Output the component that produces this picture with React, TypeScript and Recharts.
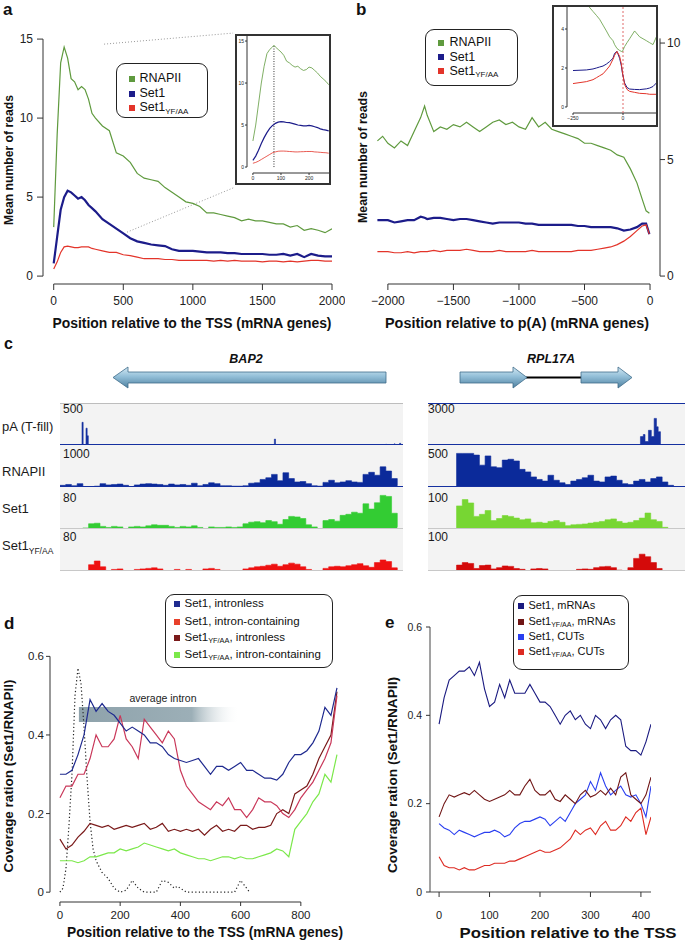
import React from "react";
import {
  LineChart,
  Line,
  AreaChart,
  Area,
  XAxis,
  YAxis,
  ReferenceLine,
  ReferenceArea,
} from "recharts";

const FONT = "'Liberation Sans', Arial, Helvetica, sans-serif";

// ---- panel a: mean reads around the TSS
const aPos = [0, 25, 50, 75, 100, 125, 150, 175, 200, 225, 250, 275, 300, 350, 400, 450, 500, 550, 600, 650, 700, 750, 800, 850, 900, 950, 1000, 1050, 1100, 1150, 1200, 1250, 1300, 1350, 1400, 1450, 1500, 1550, 1600, 1650, 1700, 1750, 1800, 1850, 1900, 1950, 2000];
const aRnapii = [3.1, 9.0, 13.5, 14.5, 13.8, 12.5, 12.3, 11.8, 12.0, 11.8, 11.2, 10.3, 10.0, 9.5, 9.2, 7.8, 7.6, 7.2, 6.5, 6.2, 6.1, 6.0, 5.6, 5.3, 5.0, 4.7, 4.6, 4.4, 4.0, 4.0, 3.9, 3.8, 3.7, 3.5, 3.6, 3.5, 3.5, 3.4, 3.3, 3.3, 3.1, 3.2, 2.9, 3.0, 2.9, 2.75, 3.0];
const aSet1 = [0.8, 2.5, 4.2, 5.0, 5.4, 5.3, 5.1, 4.9, 5.0, 4.8, 4.5, 4.3, 4.1, 3.6, 3.3, 3.0, 2.7, 2.4, 2.2, 2.1, 2.0, 1.95, 1.9, 1.7, 1.6, 1.6, 1.6, 1.55, 1.5, 1.5, 1.5, 1.45, 1.45, 1.4, 1.4, 1.4, 1.4, 1.35, 1.35, 1.4, 1.3, 1.4, 1.2, 1.4, 1.3, 1.25, 1.25];
const aYfaa = [0.45, 0.9, 1.5, 1.85, 1.9, 1.85, 1.8, 1.8, 1.85, 1.85, 1.85, 1.75, 1.7, 1.6, 1.5, 1.5, 1.35, 1.3, 1.2, 1.1, 1.1, 1.1, 1.05, 1.05, 1.0, 1.0, 1.0, 1.0, 1.0, 0.95, 1.0, 0.95, 1.0, 0.95, 0.95, 0.95, 0.9, 0.95, 0.95, 0.9, 0.95, 0.9, 0.95, 1.0, 1.0, 0.95, 0.95];

// panel a inset (first 270 nt)
const aInPos = [0, 10, 20, 30, 40, 50, 60, 70, 75, 80, 90, 100, 110, 120, 130, 140, 150, 160, 170, 180, 190, 200, 210, 220, 230, 240, 250, 260, 270];
const aInRnapii = [3.1, 5.0, 7.5, 10.0, 12.0, 13.5, 14.0, 14.3, 14.5, 14.3, 14.0, 13.7, 13.3, 12.6, 12.4, 12.1, 11.9, 12.0, 11.7, 11.5, 11.6, 11.9, 11.8, 11.5, 11.2, 10.8, 10.5, 10.2, 9.8];
const aInSet1 = [0.8, 1.3, 2.0, 2.8, 3.5, 4.1, 4.6, 4.95, 5.05, 5.2, 5.35, 5.4, 5.38, 5.3, 5.28, 5.2, 5.1, 5.0, 4.95, 4.9, 4.9, 4.95, 4.9, 4.8, 4.7, 4.55, 4.45, 4.4, 4.3];
const aInYfaa = [0.45, 0.55, 0.7, 0.9, 1.1, 1.3, 1.5, 1.7, 1.75, 1.8, 1.88, 1.9, 1.9, 1.88, 1.85, 1.83, 1.8, 1.8, 1.82, 1.83, 1.85, 1.85, 1.85, 1.8, 1.78, 1.75, 1.72, 1.7, 1.65];

// ---- panel b: mean reads around p(A)
const bPos = [-2080, -2040, -2000, -1950, -1900, -1850, -1800, -1750, -1720, -1700, -1650, -1600, -1550, -1500, -1450, -1400, -1350, -1300, -1250, -1200, -1150, -1100, -1050, -1000, -950, -900, -850, -800, -750, -700, -650, -600, -550, -500, -450, -400, -350, -300, -250, -200, -150, -100, -60, -30, -5];
const bRnapii = [5.8, 6.0, 5.7, 5.5, 5.8, 5.6, 6.2, 6.8, 7.3, 6.9, 6.2, 6.4, 6.3, 6.5, 6.4, 6.6, 6.4, 6.2, 6.4, 6.6, 6.7, 6.5, 6.6, 6.4, 6.3, 6.8, 6.4, 6.6, 6.3, 6.2, 6.1, 6.0, 5.9, 5.7, 5.7, 5.6, 5.5, 5.4, 5.2, 5.1, 4.6, 4.0, 3.3, 2.8, 2.7];
const bSet1 = [2.4, 2.4, 2.4, 2.3, 2.35, 2.4, 2.4, 2.55, 2.5, 2.45, 2.5, 2.5, 2.45, 2.4, 2.45, 2.45, 2.4, 2.35, 2.3, 2.25, 2.3, 2.3, 2.3, 2.3, 2.25, 2.25, 2.2, 2.2, 2.2, 2.2, 2.2, 2.2, 2.15, 2.15, 2.1, 2.1, 2.1, 2.1, 2.05, 1.95, 2.0, 2.1, 2.25, 2.25, 1.8];
const bYfaa = [1.05, 1.05, 1.05, 1.0, 1.0, 1.05, 1.0, 1.05, 1.05, 1.05, 1.1, 1.05, 1.1, 1.1, 1.1, 1.15, 1.1, 1.05, 1.05, 1.05, 1.1, 1.05, 1.05, 1.05, 1.05, 1.1, 1.05, 1.05, 1.05, 1.05, 1.05, 1.05, 1.1, 1.1, 1.1, 1.15, 1.2, 1.25, 1.35, 1.5, 1.7, 1.95, 2.15, 2.2, 1.8];

// panel b inset (close to p(A))
const bInPos = [-250, -183, -150, -133, -117, -100, -83, -67, -50, -42, -30, -17, -8, -3, 8, 20, 33, 58, 83, 117, 133, 150, 167];
const bInRnapii = [5.9, 5.3, 4.9, 4.7, 4.5, 4.2, 3.9, 3.6, 3.4, 3.2, 3.0, 2.9, 2.85, 2.85, 3.1, 3.3, 3.5, 3.9, 3.6, 3.4, 3.3, 3.2, 3.6];
const bInSet1 = [1.87, 1.9, 1.95, 2.0, 2.05, 2.1, 2.2, 2.33, 2.5, 2.75, 2.85, 2.5, 2.1, 1.74, 1.23, 1.0, 0.92, 0.9, 0.89, 0.93, 0.97, 1.05, 1.23];
const bInYfaa = [1.2, 1.3, 1.4, 1.5, 1.6, 1.7, 1.9, 2.1, 2.45, 2.65, 2.85, 2.6, 2.2, 1.8, 1.15, 0.9, 0.8, 0.75, 0.7, 0.68, 0.65, 0.65, 0.65];

// ---- panel c: browser tracks (bins)
const cLeftPaPos = [0, 3.85, 4.05, 4.55, 4.75, 4.95, 37.5, 37.7, 57.0, 57.1, 58.5, 58.6, 59.4, 59.6, 60];
const cLeftPa = [0, 270, 0, 200, 110, 0, 70, 0, 10, 0, 15, 0, 20, 0, 0];
const cLeftRnapii = [40, 60, 30, 80, 0, 0, 20, 80, 50, 60, 70, 40, 0, 50, 70, 80, 70, 60, 40, 70, 50, 60, 40, 90, 30, 60, 100, 80, 30, 30, 20, 20, 30, 90, 100, 180, 220, 300, 150, 340, 200, 120, 130, 80, 30, 20, 110, 160, 100, 120, 150, 120, 110, 300, 350, 280, 480, 380, 200, 30];
const cLeftSet1 = [0, 0, 0, 0, 2, 10, 11, 5, 3, 5, 4, 0, 4, 5, 4, 6, 8, 7, 7, 5, 3, 5, 4, 6, 3, 0, 4, 3, 3, 4, 3, 4, 10, 13, 14, 12, 16, 14, 9, 18, 24, 23, 20, 8, 4, 0, 16, 18, 15, 26, 28, 32, 30, 48, 38, 50, 64, 62, 30, 4];
const cLeftYfaa = [0, 0, 0, 0, 0, 12, 19, 8, 0, 3, 4, 0, 0, 3, 4, 5, 6, 4, 0, 0, 3, 0, 3, 0, 0, 4, 5, 3, 0, 0, 0, 0, 4, 6, 8, 9, 11, 13, 9, 12, 15, 13, 8, 3, 0, 0, 5, 8, 9, 8, 10, 12, 14, 10, 7, 16, 21, 18, 6, 0];
const cRightPaPos = [0, 37.2, 37.7, 38.0, 38.6, 39.1, 39.6, 40.0, 40.3, 40.7, 45];
const cRightPa = [0, 600, 750, 250, 1050, 600, 1900, 1300, 950, 0, 0];
const cRightRnapii = [0, 0, 0, 0, 0, 400, 400, 400, 380, 260, 370, 240, 230, 320, 330, 310, 210, 180, 120, 90, 70, 140, 80, 50, 30, 70, 90, 110, 140, 70, 60, 120, 130, 80, 40, 30, 70, 90, 60, 100, 120, 60, 20, 0, 0];
const cRightSet1 = [0, 0, 0, 0, 0, 55, 70, 62, 30, 35, 44, 20, 25, 32, 30, 26, 22, 24, 15, 16, 14, 18, 20, 16, 8, 10, 11, 12, 14, 16, 18, 22, 24, 18, 14, 16, 20, 26, 38, 22, 18, 4, 0, 0, 0];
const cRightYfaa = [0, 0, 0, 0, 0, 14, 20, 18, 6, 13, 14, 5, 8, 12, 11, 6, 4, 0, 5, 6, 5, 0, 0, 0, 0, 0, 4, 5, 4, 8, 10, 11, 8, 2, 0, 8, 30, 40, 34, 20, 6, 0, 0, 0, 0];

// ---- panel d: coverage ratio, intron vs intronless
const dPos = [0, 20, 40, 60, 80, 100, 120, 140, 160, 180, 200, 220, 240, 260, 280, 300, 320, 340, 360, 380, 400, 420, 440, 460, 480, 500, 520, 540, 560, 580, 600, 620, 640, 660, 680, 700, 720, 740, 760, 780, 800, 820, 840, 860, 880, 900, 920];
const dSet1Intronless = [0.30, 0.30, 0.31, 0.35, 0.40, 0.49, 0.46, 0.48, 0.46, 0.45, 0.43, 0.41, 0.42, 0.41, 0.40, 0.38, 0.38, 0.37, 0.35, 0.34, 0.335, 0.33, 0.335, 0.34, 0.32, 0.30, 0.32, 0.32, 0.31, 0.32, 0.33, 0.31, 0.31, 0.30, 0.29, 0.29, 0.285, 0.30, 0.33, 0.35, 0.35, 0.36, 0.38, 0.41, 0.47, 0.45, 0.52];
const dSet1Intron = [0.24, 0.27, 0.27, 0.30, 0.30, 0.34, 0.40, 0.37, 0.37, 0.39, 0.45, 0.39, 0.37, 0.34, 0.44, 0.42, 0.40, 0.38, 0.41, 0.39, 0.31, 0.27, 0.25, 0.23, 0.22, 0.21, 0.23, 0.22, 0.24, 0.21, 0.21, 0.19, 0.21, 0.24, 0.23, 0.23, 0.22, 0.20, 0.19, 0.21, 0.24, 0.26, 0.28, 0.31, 0.34, 0.38, 0.50];
const dYfaaIntronless = [0.135, 0.11, 0.12, 0.14, 0.155, 0.175, 0.17, 0.165, 0.17, 0.16, 0.165, 0.17, 0.165, 0.17, 0.175, 0.16, 0.165, 0.175, 0.155, 0.16, 0.155, 0.16, 0.155, 0.16, 0.145, 0.16, 0.17, 0.155, 0.16, 0.155, 0.17, 0.17, 0.16, 0.165, 0.165, 0.17, 0.20, 0.21, 0.20, 0.25, 0.26, 0.27, 0.30, 0.34, 0.37, 0.40, 0.51];
const dYfaaIntron = [0.08, 0.08, 0.08, 0.075, 0.08, 0.09, 0.09, 0.095, 0.10, 0.10, 0.11, 0.105, 0.11, 0.115, 0.125, 0.12, 0.115, 0.11, 0.105, 0.11, 0.10, 0.095, 0.09, 0.085, 0.085, 0.08, 0.085, 0.09, 0.09, 0.085, 0.09, 0.085, 0.085, 0.09, 0.095, 0.10, 0.11, 0.105, 0.09, 0.16, 0.18, 0.20, 0.23, 0.25, 0.30, 0.28, 0.35];
const dIntronPos = [0, 10, 20, 30, 40, 50, 60, 70, 80, 90, 100, 110, 120, 140, 160, 180, 200, 220, 240, 260, 280, 320, 340, 360, 380, 390, 400, 420, 580, 600, 620, 630];
const dIntronDensity = [0, 0.01, 0.06, 0.17, 0.3, 0.5, 0.57, 0.53, 0.42, 0.29, 0.18, 0.11, 0.08, 0.05, 0.035, 0.01, 0, 0.005, 0.03, 0.01, 0, 0, 0.03, 0.025, 0.01, 0.015, 0.01, 0, 0, 0.03, 0.01, 0];

// ---- panel e: coverage ratio, mRNAs vs CUTs
const ePos = [0, 10, 20, 30, 40, 50, 60, 70, 80, 90, 100, 110, 120, 130, 140, 150, 160, 170, 180, 190, 200, 210, 220, 230, 240, 250, 260, 270, 280, 290, 300, 310, 320, 330, 340, 350, 360, 370, 380, 390, 400, 410, 420];
const eSet1Mrna = [0.38, 0.44, 0.48, 0.49, 0.50, 0.50, 0.51, 0.49, 0.52, 0.46, 0.42, 0.43, 0.47, 0.44, 0.48, 0.45, 0.45, 0.45, 0.47, 0.45, 0.43, 0.43, 0.42, 0.40, 0.38, 0.40, 0.41, 0.39, 0.40, 0.38, 0.37, 0.40, 0.39, 0.37, 0.39, 0.40, 0.39, 0.33, 0.32, 0.32, 0.31, 0.34, 0.38];
const eYfaaMrna = [0.17, 0.20, 0.22, 0.215, 0.22, 0.225, 0.22, 0.23, 0.22, 0.21, 0.205, 0.21, 0.215, 0.22, 0.23, 0.22, 0.22, 0.24, 0.255, 0.23, 0.22, 0.22, 0.23, 0.21, 0.205, 0.22, 0.21, 0.20, 0.22, 0.23, 0.215, 0.22, 0.23, 0.22, 0.235, 0.22, 0.26, 0.27, 0.22, 0.21, 0.20, 0.22, 0.26];
const eSet1Cut = [0.155, 0.145, 0.14, 0.13, 0.14, 0.135, 0.13, 0.125, 0.13, 0.135, 0.135, 0.14, 0.135, 0.125, 0.13, 0.145, 0.155, 0.16, 0.16, 0.165, 0.17, 0.165, 0.15, 0.16, 0.17, 0.16, 0.18, 0.20, 0.21, 0.22, 0.25, 0.23, 0.27, 0.24, 0.22, 0.23, 0.24, 0.22, 0.215, 0.22, 0.20, 0.17, 0.24];
const eYfaaCut = [0.08, 0.06, 0.055, 0.055, 0.05, 0.055, 0.05, 0.05, 0.055, 0.06, 0.06, 0.065, 0.065, 0.065, 0.07, 0.07, 0.075, 0.08, 0.085, 0.09, 0.095, 0.09, 0.09, 0.095, 0.10, 0.11, 0.12, 0.14, 0.13, 0.14, 0.145, 0.13, 0.15, 0.16, 0.14, 0.14, 0.15, 0.17, 0.16, 0.18, 0.19, 0.13, 0.17];

const GREEN = "#5f9a3e";
const NAVY = "#1c1c8a";
const RED = "#e3342a";

const table = (x: number[], cols: Record<string, number[]>) =>
  x.map((v, i) => {
    const row: Record<string, number> = { x: v };
    Object.keys(cols).forEach((k) => (row[k] = cols[k][i]));
    return row;
  });

const bins = (vals: number[]) => vals.map((v, i) => ({ x: i, y: v }));

const aRows = table(aPos, { rnapii: aRnapii, set1: aSet1, yfaa: aYfaa });
const aInRows = table(aInPos, { rnapii: aInRnapii, set1: aInSet1, yfaa: aInYfaa });
const bRows = table(bPos, { rnapii: bRnapii, set1: bSet1, yfaa: bYfaa });
const bInRows = table(bInPos, { rnapii: bInRnapii, set1: bInSet1, yfaa: bInYfaa });
const dRows = table(dPos, { s1: dSet1Intronless, s1i: dSet1Intron, yf: dYfaaIntronless, yfi: dYfaaIntron });
const dIntronRows = table(dIntronPos, { y: dIntronDensity });
const eRows = table(ePos, { s1m: eSet1Mrna, yfm: eYfaaMrna, s1c: eSet1Cut, yfc: eYfaaCut });

const tk = (size: number) => ({ fontSize: size, fill: "#222", fontFamily: FONT });
const minus = (v: number) => (v < 0 ? "\u2212" + Math.abs(v) : String(v));
const dec = (v: number) => (v === 0 ? "0" : v.toFixed(1));
const TL = { stroke: "#333" };

function Sub({ children }: { children: React.ReactNode }) {
  return <span style={{ fontSize: "0.64em", position: "relative", top: "0.32em" }}>{children}</span>;
}

type Item = { color: string; label: React.ReactNode; y: number };

function LegendBox({ box, items, fontSize, swatchX, textX }: { box: number[]; items: Item[]; fontSize: number; swatchX: number; textX: number }) {
  const [l, t, r, b] = box;
  return (
    <div style={{ position: "absolute", left: l, top: t, width: r - l, height: b - t, border: "1.5px solid #222", borderRadius: 9, boxSizing: "border-box", background: "#fff" }}>
      {items.map((it, i) => (
        <React.Fragment key={i}>
          <div style={{ position: "absolute", left: swatchX - l - 1.5, top: it.y - t - 4.5, width: 6, height: 6, background: it.color }} />
          <div style={{ position: "absolute", left: textX - l - 1.5, top: it.y - t - fontSize / 2 - 1.5, fontSize, lineHeight: `${fontSize}px`, whiteSpace: "nowrap", color: "#111" }}>{it.label}</div>
        </React.Fragment>
      ))}
    </div>
  );
}

const TRACK_H = 42;

function Track({ left, top, width, data, max, domainMax, color }: { left: number; top: number; width: number; data: { x: number; y: number }[]; max: number; domainMax: number; color: string }) {
  return (
    <div style={{ position: "absolute", left, top, width, height: TRACK_H }}>
      <AreaChart width={width} height={TRACK_H} data={data} margin={{ top: 0, right: 0, bottom: 0, left: 0 }}>
        <XAxis dataKey="x" type="number" domain={[0, domainMax]} hide allowDataOverflow />
        <YAxis type="number" domain={[0, max]} hide allowDataOverflow />
        <Area type="stepAfter" dataKey="y" stroke={color} strokeWidth={0.6} fill={color} fillOpacity={1} dot={false} activeDot={false} isAnimationActive={false} />
      </AreaChart>
    </div>
  );
}

function PanelA() {
  return (
    <>
      <div style={{ position: "absolute", left: 0, top: 0 }}>
        <LineChart width={345} height={330} data={aRows} margin={{ top: 30, right: 13, bottom: 16, left: 0 }}>
          <XAxis dataKey="x" type="number" domain={[-77, 2000]} ticks={[0, 500, 1000, 1500, 2000]} interval={0} axisLine={false} tickLine={TL} tickSize={6} tickMargin={6} height={30} tick={tk(12)} allowDataOverflow />
          <YAxis type="number" domain={[-0.5, 15.575]} ticks={[0, 5, 10, 15]} interval={0} axisLine={false} tickLine={TL} tickSize={6} tickMargin={4} width={43} tick={tk(12)} allowDataOverflow />
          <ReferenceLine segment={[{ x: 0, y: -0.5 }, { x: 2000, y: -0.5 }]} stroke="#333" ifOverflow="visible" />
          <ReferenceLine segment={[{ x: -77, y: 0 }, { x: -77, y: 15 }]} stroke="#333" ifOverflow="visible" />
          <ReferenceLine segment={[{ x: 362, y: 14.68 }, { x: 1289, y: 15.38 }]} stroke="#999" strokeDasharray="1 2" ifOverflow="visible" />
          <ReferenceLine segment={[{ x: 527, y: 2.78 }, { x: 1303, y: 5.63 }]} stroke="#999" strokeDasharray="1 2" ifOverflow="visible" />
          <Line type="linear" dataKey="rnapii" stroke={GREEN} strokeWidth={1.2} dot={false} activeDot={false} isAnimationActive={false} />
          <Line type="linear" dataKey="set1" stroke={NAVY} strokeWidth={2.2} dot={false} activeDot={false} isAnimationActive={false} />
          <Line type="linear" dataKey="yfaa" stroke={RED} strokeWidth={1.2} dot={false} activeDot={false} isAnimationActive={false} />
        </LineChart>
      </div>
      <LegendBox
        box={[116, 63, 208, 118]}
        fontSize={12.5}
        swatchX={129}
        textX={140}
        items={[
          { color: GREEN, label: "RNAPII", y: 79 },
          { color: NAVY, label: "Set1", y: 94 },
          { color: RED, label: <>Set1<Sub>YF/AA</Sub></>, y: 108 },
        ]}
      />
      <div style={{ position: "absolute", left: 235, top: 34, width: 96, height: 151, border: "2px solid #333", boxSizing: "border-box", background: "#fff" }}>
        <LineChart width={92} height={147} data={aInRows} margin={{ top: 0, right: 0, bottom: 0, left: 0 }}>
          <XAxis dataKey="x" type="number" domain={[-21, 271]} ticks={[0, 100, 200]} interval={0} axisLine={false} tickLine={TL} tickSize={2} tickMargin={1} height={10} tick={tk(5)} allowDataOverflow />
          <YAxis type="number" domain={[-0.71, 15.6]} ticks={[0, 5, 10, 15]} interval={0} axisLine={false} tickLine={TL} tickSize={2} tickMargin={1} width={10} tick={tk(5)} allowDataOverflow />
          <ReferenceLine segment={[{ x: 0, y: -0.71 }, { x: 271, y: -0.71 }]} stroke="#333" ifOverflow="visible" />
          <ReferenceLine segment={[{ x: -21, y: 0 }, { x: -21, y: 15.6 }]} stroke="#333" ifOverflow="visible" />
          <ReferenceLine segment={[{ x: 75, y: 0 }, { x: 75, y: 14.5 }]} stroke="#333" strokeDasharray="1 1.5" ifOverflow="visible" />
          <Line type="linear" dataKey="rnapii" stroke={GREEN} strokeWidth={0.8} dot={false} activeDot={false} isAnimationActive={false} />
          <Line type="linear" dataKey="set1" stroke={NAVY} strokeWidth={1.2} dot={false} activeDot={false} isAnimationActive={false} />
          <Line type="linear" dataKey="yfaa" stroke={RED} strokeWidth={0.8} dot={false} activeDot={false} isAnimationActive={false} />
        </LineChart>
      </div>
    </>
  );
}

function PanelB() {
  return (
    <>
      <div style={{ position: "absolute", left: 340, top: 0 }}>
        <LineChart width={345} height={330} data={bRows} margin={{ top: 30, right: 0, bottom: 16, left: 26 }}>
          <XAxis dataKey="x" type="number" domain={[-2167, 76]} ticks={[-2000, -1500, -1000, -500, 0]} tickFormatter={minus} interval={0} axisLine={false} tickLine={TL} tickSize={6} tickMargin={6} height={30} tick={tk(12)} allowDataOverflow />
          <YAxis orientation="right" type="number" domain={[-0.34, 10.56]} ticks={[0, 5, 10]} interval={0} axisLine={false} tickLine={TL} tickSize={5} tickMargin={2} width={25} tick={tk(12)} allowDataOverflow />
          <ReferenceLine segment={[{ x: -2000, y: -0.34 }, { x: 0, y: -0.34 }]} stroke="#333" ifOverflow="visible" />
          <ReferenceLine segment={[{ x: 76, y: 0 }, { x: 76, y: 10.2 }]} stroke="#333" ifOverflow="visible" />
          <Line type="linear" dataKey="rnapii" stroke={GREEN} strokeWidth={1.2} dot={false} activeDot={false} isAnimationActive={false} />
          <Line type="linear" dataKey="set1" stroke={NAVY} strokeWidth={2.2} dot={false} activeDot={false} isAnimationActive={false} />
          <Line type="linear" dataKey="yfaa" stroke={RED} strokeWidth={1.2} dot={false} activeDot={false} isAnimationActive={false} />
        </LineChart>
      </div>
      <LegendBox
        box={[425, 29, 518, 86]}
        fontSize={12.5}
        swatchX={438}
        textX={450}
        items={[
          { color: GREEN, label: "RNAPII", y: 43 },
          { color: NAVY, label: "Set1", y: 57.5 },
          { color: RED, label: <>Set1<Sub>YF/AA</Sub></>, y: 71.5 },
        ]}
      />
      <div style={{ position: "absolute", left: 552, top: 5, width: 106, height: 122, border: "2px solid #333", boxSizing: "border-box", background: "#fff" }}>
        <LineChart width={102} height={118} data={bInRows} margin={{ top: 0, right: 0, bottom: 0, left: 0 }}>
          <XAxis dataKey="x" type="number" domain={[-280, 165]} ticks={[-250, 0]} tickFormatter={minus} interval={0} axisLine={false} tickLine={TL} tickSize={2} tickMargin={1} height={12} tick={tk(5)} allowDataOverflow />
          <YAxis type="number" domain={[-0.31, 5.13]} ticks={[0, 2, 4]} interval={0} axisLine={false} tickLine={TL} tickSize={2} tickMargin={1} width={13} tick={tk(5)} allowDataOverflow />
          <ReferenceLine segment={[{ x: -250, y: -0.31 }, { x: 165, y: -0.31 }]} stroke="#333" ifOverflow="visible" />
          <ReferenceLine segment={[{ x: -280, y: 0 }, { x: -280, y: 5.13 }]} stroke="#333" ifOverflow="visible" />
          <ReferenceLine x={0} stroke="#e06a6a" strokeDasharray="2 2" ifOverflow="visible" />
          <Line type="linear" dataKey="rnapii" stroke={GREEN} strokeWidth={0.8} dot={false} activeDot={false} isAnimationActive={false} />
          <Line type="linear" dataKey="set1" stroke={NAVY} strokeWidth={1} dot={false} activeDot={false} isAnimationActive={false} />
          <Line type="linear" dataKey="yfaa" stroke={RED} strokeWidth={1} dot={false} activeDot={false} isAnimationActive={false} />
        </LineChart>
      </div>
    </>
  );
}

const PA_BLUE = "#1530a0";
const POL_BLUE = "#0b2a9a";
const T0 = 403;

function PanelC() {
  const rows = [T0, T0 + TRACK_H, T0 + 2 * TRACK_H, T0 + 3 * TRACK_H];
  const bg = (left: number, width: number) => (
    <div style={{ position: "absolute", left, top: T0, width, height: 4 * TRACK_H, background: "#f3f3f3" }} />
  );
  const hline = (left: number, width: number, top: number, color: string) => (
    <div style={{ position: "absolute", left, top, width, height: 1, background: color }} />
  );
  return (
    <>
      {bg(60, 343)}
      {bg(428, 257)}
      <Track left={60} top={rows[0]} width={343} data={table(cLeftPaPos, { y: cLeftPa }) as any} max={500} domainMax={60} color={PA_BLUE} />
      <Track left={60} top={rows[1]} width={343} data={bins(cLeftRnapii)} max={1000} domainMax={60} color={POL_BLUE} />
      <Track left={60} top={rows[2]} width={343} data={bins(cLeftSet1)} max={80} domainMax={60} color="#33cc33" />
      <Track left={60} top={rows[3]} width={343} data={bins(cLeftYfaa)} max={80} domainMax={60} color="#ee1111" />
      <Track left={428} top={rows[0]} width={257} data={table(cRightPaPos, { y: cRightPa }) as any} max={3000} domainMax={45} color={PA_BLUE} />
      <Track left={428} top={rows[1]} width={257} data={bins(cRightRnapii)} max={500} domainMax={45} color={POL_BLUE} />
      <Track left={428} top={rows[2]} width={257} data={bins(cRightSet1)} max={100} domainMax={45} color="#77d633" />
      <Track left={428} top={rows[3]} width={257} data={bins(cRightYfaa)} max={100} domainMax={45} color="#d40a0a" />
      {hline(60, 343, T0, "#bdbdbd")}
      {hline(60, 343, rows[1] - 1, PA_BLUE)}
      {hline(60, 343, rows[2] - 1, PA_BLUE)}
      {hline(60, 343, rows[3] - 1, "#c8c8c8")}
      {hline(60, 343, T0 + 4 * TRACK_H - 1, "#c8c8c8")}
      {hline(428, 257, T0, PA_BLUE)}
      {hline(428, 257, rows[1] - 1, PA_BLUE)}
      {hline(428, 257, rows[2] - 1, PA_BLUE)}
      {hline(428, 257, rows[3] - 1, "#c8c8c8")}
      {hline(428, 257, T0 + 4 * TRACK_H - 1, "#c8c8c8")}
    </>
  );
}

function PanelD() {
  return (
    <>
      <div style={{ position: "absolute", left: 0, top: 640 }}>
        <LineChart width={345} height={300} data={dRows} margin={{ top: 8.5, right: 2, bottom: 8, left: 0 }}>
          <XAxis dataKey="x" type="number" domain={[-33, 940]} ticks={[0, 200, 400, 600, 800]} interval={0} axisLine={false} tickLine={TL} tickSize={4} tickMargin={5} height={30} tick={tk(11.5)} allowDataOverflow />
          <YAxis type="number" domain={[-0.025, 0.62]} ticks={[0, 0.2, 0.4, 0.6]} tickFormatter={dec} interval={0} axisLine={false} tickLine={TL} tickSize={4} tickMargin={2} width={50} tick={tk(11.5)} allowDataOverflow />
          <ReferenceLine segment={[{ x: 0, y: -0.025 }, { x: 800, y: -0.025 }]} stroke="#333" ifOverflow="visible" />
          <ReferenceLine segment={[{ x: -33, y: 0 }, { x: -33, y: 0.6 }]} stroke="#333" ifOverflow="visible" />
          <ReferenceArea x1={63} x2={598} y1={0.433} y2={0.471} fill="url(#intronGrad)" fillOpacity={1} stroke="none" ifOverflow="visible" />
          <Line data={dIntronRows} type="linear" dataKey="y" stroke="#222" strokeWidth={1.2} strokeDasharray="1.2 2.4" dot={false} activeDot={false} isAnimationActive={false} />
          <Line type="linear" dataKey="yfi" stroke="#7be84a" strokeWidth={1.2} dot={false} activeDot={false} isAnimationActive={false} />
          <Line type="linear" dataKey="yf" stroke="#7a1a1a" strokeWidth={1.2} dot={false} activeDot={false} isAnimationActive={false} />
          <Line type="linear" dataKey="s1i" stroke="#c9385a" strokeWidth={1.2} dot={false} activeDot={false} isAnimationActive={false} />
          <Line type="linear" dataKey="s1" stroke="#1f2a8f" strokeWidth={1.2} dot={false} activeDot={false} isAnimationActive={false} />
        </LineChart>
      </div>
      <LegendBox
        box={[165, 594, 333, 668]}
        fontSize={11.5}
        swatchX={174}
        textX={185}
        items={[
          { color: "#1f2a8f", label: "Set1, intronless", y: 604 },
          { color: "#e8402a", label: "Set1, intron-containing", y: 622 },
          { color: "#7a1a1a", label: <>Set1<Sub>YF/AA</Sub>, intronless</>, y: 638 },
          { color: "#7be84a", label: <>Set1<Sub>YF/AA</Sub>, intron-containing</>, y: 655 },
        ]}
      />
    </>
  );
}

function PanelE() {
  return (
    <>
      <div style={{ position: "absolute", left: 340, top: 600 }}>
        <LineChart width={345} height={340} data={eRows} margin={{ top: 27, right: 34, bottom: 18, left: 0 }}>
          <XAxis dataKey="x" type="number" domain={[-18, 420]} ticks={[0, 100, 200, 300, 400]} interval={0} axisLine={{ stroke: "#444" }} tickLine={TL} tickSize={5} tickMargin={14} height={30} tick={tk(11)} allowDataOverflow />
          <YAxis type="number" domain={[0, 0.6]} ticks={[0, 0.2, 0.4, 0.6]} tickFormatter={dec} interval={0} axisLine={{ stroke: "#444" }} tickLine={TL} tickSize={4} tickMargin={4} width={90} tick={tk(10.5)} allowDataOverflow />
          <Line type="linear" dataKey="yfc" stroke="#dd2a22" strokeWidth={1.1} dot={false} activeDot={false} isAnimationActive={false} />
          <Line type="linear" dataKey="s1c" stroke="#2a3ff0" strokeWidth={1.1} dot={false} activeDot={false} isAnimationActive={false} />
          <Line type="linear" dataKey="yfm" stroke="#701515" strokeWidth={1.1} dot={false} activeDot={false} isAnimationActive={false} />
          <Line type="linear" dataKey="s1m" stroke="#1a1a80" strokeWidth={1.1} dot={false} activeDot={false} isAnimationActive={false} />
        </LineChart>
      </div>
      <LegendBox
        box={[513, 595, 629, 670]}
        fontSize={11}
        swatchX={518}
        textX={529}
        items={[
          { color: "#1a1a80", label: "Set1, mRNAs", y: 606 },
          { color: "#701515", label: <>Set1<Sub>YF/AA</Sub>, mRNAs</>, y: 622 },
          { color: "#2a3ff0", label: "Set1, CUTs", y: 637 },
          { color: "#dd2a22", label: <>Set1<Sub>YF/AA</Sub>, CUTs</>, y: 652 },
        ]}
      />
    </>
  );
}

function Overlay() {
  const title = { fontFamily: FONT, fontWeight: 700, fill: "#111" } as const;
  return (
    <svg width={685} height={942} style={{ position: "absolute", left: 0, top: 0, pointerEvents: "none" }}>
      <defs>
        <linearGradient id="geneGrad" x1="0" y1="0" x2="0" y2="1">
          <stop offset="0" stopColor="#d3e8f3" />
          <stop offset="0.45" stopColor="#93bfd8" />
          <stop offset="1" stopColor="#4f809f" />
        </linearGradient>
        <linearGradient id="intronGrad" x1="0" y1="0" x2="1" y2="0">
          <stop offset="0" stopColor="#8ea2ab" />
          <stop offset="0.7" stopColor="#9cafb7" />
          <stop offset="1" stopColor="#ffffff" stopOpacity={0} />
        </linearGradient>
      </defs>
      {/* panel letters */}
      <text x={3} y={15} fontSize={17} {...title}>a</text>
      <text x={356} y={15} fontSize={17} {...title}>b</text>
      <text x={4} y={349} fontSize={16} {...title}>c</text>
      <text x={4} y={629} fontSize={17} {...title}>d</text>
      <text x={385} y={628} fontSize={17} {...title}>e</text>
      {/* axis titles */}
      <text x={192} y={328} fontSize={14} textAnchor="middle" textLength={279} lengthAdjust="spacingAndGlyphs" {...title}>Position relative to the TSS (mRNA genes)</text>
      <text transform="translate(13,160) rotate(-90)" fontSize={13} textAnchor="middle" textLength={130} lengthAdjust="spacingAndGlyphs" {...title}>Mean number of reads</text>
      <text x={517} y={328} fontSize={14} textAnchor="middle" textLength={264} lengthAdjust="spacingAndGlyphs" {...title}>Position relative to p(A) (mRNA genes)</text>
      <text transform="translate(367,157) rotate(-90)" fontSize={13} textAnchor="middle" textLength={132} lengthAdjust="spacingAndGlyphs" {...title}>Mean number of reads</text>
      <text x={205} y={937} fontSize={14} textAnchor="middle" textLength={276} lengthAdjust="spacingAndGlyphs" {...title}>Position relative to the TSS (mRNA genes)</text>
      <text transform="translate(13,776) rotate(-90)" fontSize={13.5} textAnchor="middle" textLength={193} lengthAdjust="spacingAndGlyphs" {...title}>Coverage ration (Set1/RNAPII)</text>
      <text x={568} y={938} fontSize={14} textAnchor="middle" textLength={217} lengthAdjust="spacingAndGlyphs" {...title}>Position relative to the TSS</text>
      <text transform="translate(397,775) rotate(-90)" fontSize={13.5} textAnchor="middle" textLength={196} lengthAdjust="spacingAndGlyphs" {...title}>Coverage ration (Set1/RNAPII)</text>
      <text x={163} y={702} fontSize={10.5} textAnchor="middle" fontFamily={FONT} fill="#222">average intron</text>
      {/* genes */}
      <text x={246} y={363} fontSize={12.5} textAnchor="middle" fontStyle="italic" {...title}>BAP2</text>
      <text x={551} y={363} fontSize={12.5} textAnchor="middle" fontStyle="italic" {...title}>RPL17A</text>
      <polygon points="113,377.5 128,367 128,372 386,372 386,383 128,383 128,388" fill="url(#geneGrad)" stroke="#3f6c8a" strokeWidth={0.8} />
      <line x1={526} y1={377.5} x2={582} y2={377.5} stroke="#000" strokeWidth={2.2} />
      <polygon points="460,372 513,372 513,367 527,377.5 513,388 513,383 460,383" fill="url(#geneGrad)" stroke="#3f6c8a" strokeWidth={0.8} />
      <polygon points="581,372 618,372 618,367 632,377.5 618,388 618,383 581,383" fill="url(#geneGrad)" stroke="#3f6c8a" strokeWidth={0.8} />
      {/* track names and scales */}
      <g fontFamily={FONT} fill="#1a1a1a" fontSize={13}>
        <text x={2} y={431}>pA (T-fill)</text>
        <text x={2} y={476}>RNAPII</text>
        <text x={2} y={513}>Set1</text>
        <text x={2} y={550}>Set1<tspan fontSize={8.5} dy={4}>YF/AA</tspan></text>
      </g>
      <g fontFamily={FONT} fill="#1a1a1a" fontSize={12}>
        <text x={63} y={413}>500</text>
        <text x={63} y={458}>1000</text>
        <text x={63} y={502}>80</text>
        <text x={63} y={541}>80</text>
        <text x={428} y={413}>3000</text>
        <text x={428} y={458}>500</text>
        <text x={428} y={502}>100</text>
        <text x={428} y={541}>100</text>
      </g>
    </svg>
  );
}

export default function App() {
  return (
    <div style={{ position: "absolute", left: 0, top: 0, width: 685, height: 942, background: "#fff", fontFamily: FONT, overflow: "hidden" }}>
      <PanelA />
      <PanelB />
      <PanelC />
      <PanelD />
      <PanelE />
      <Overlay />
    </div>
  );
}
